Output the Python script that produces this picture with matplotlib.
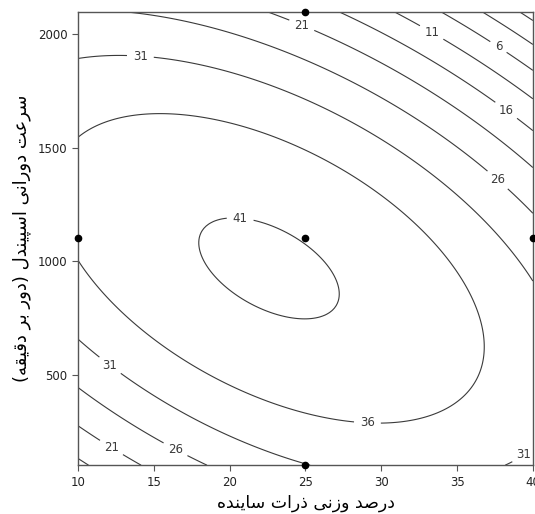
import matplotlib
matplotlib.use('Agg')
import matplotlib.pyplot as plt
import numpy as np

# Quadratic response-surface model (coded units)
b0 = 40.85
b_x, b_y = -4.25, -6.15
b_xx, b_yy, b_xy = -8.4, -16.15, -11.8

x_center, x_half = 25, 15        # weight percent of abrasive
y_center, y_half = 1100, 1000    # spindle speed (rpm)

levels = [-4, 1, 6, 11, 16, 21, 26, 31, 36, 41]

# design points shown as dots
design_x = [25, 10, 25, 40, 25]
design_y = [2100, 1100, 1100, 1100, 100]

xlabel_text = 'درصد وزنی ذرات ساینده'
ylabel_text = 'سرعت دورانی اسپیندل (دور بر دقیقه)'

# Persian letters: isolated, final, initial, medial
FORMS = {
    'ا': ('\uFE8D', '\uFE8E', None, None),
    'ب': ('\uFE8F', '\uFE90', '\uFE91', '\uFE92'),
    'پ': ('\uFB56', '\uFB57', '\uFB58', '\uFB59'),
    'ت': ('\uFE95', '\uFE96', '\uFE97', '\uFE98'),
    'د': ('\uFEA9', '\uFEAA', None, None),
    'ذ': ('\uFEAB', '\uFEAC', None, None),
    'ر': ('\uFEAD', '\uFEAE', None, None),
    'ز': ('\uFEAF', '\uFEB0', None, None),
    'س': ('\uFEB1', '\uFEB2', '\uFEB3', '\uFEB4'),
    'ص': ('\uFEB9', '\uFEBA', '\uFEBB', '\uFEBC'),
    'ع': ('\uFEC9', '\uFECA', '\uFECB', '\uFECC'),
    'ق': ('\uFED5', '\uFED6', '\uFED7', '\uFED8'),
    'ل': ('\uFEDD', '\uFEDE', '\uFEDF', '\uFEE0'),
    'ن': ('\uFEE5', '\uFEE6', '\uFEE7', '\uFEE8'),
    'ه': ('\uFEE9', '\uFEEA', '\uFEEB', '\uFEEC'),
    'و': ('\uFEED', '\uFEEE', None, None),
    'ی': ('\uFBFC', '\uFBFD', '\uFBFE', '\uFBFF'),
}


def farsi(text):
    out = []
    for i, ch in enumerate(text):
        if ch not in FORMS:
            out.append(ch)
            continue
        prev = text[i - 1] if i > 0 else ''
        nxt = text[i + 1] if i + 1 < len(text) else ''
        join_prev = prev in FORMS and FORMS[prev][2] is not None
        join_next = FORMS[ch][2] is not None and nxt in FORMS
        iso, fin, ini, med = FORMS[ch]
        if join_prev and join_next:
            out.append(med)
        elif join_prev:
            out.append(fin)
        elif join_next:
            out.append(ini)
        else:
            out.append(iso)
    s = ''.join(out)[::-1]
    return s.translate(str.maketrans('()', ')('))


def response(x, y):
    u = (x - x_center) / x_half
    v = (y - y_center) / y_half
    return b0 + b_x * u + b_y * v + b_xx * u**2 + b_yy * v**2 + b_xy * u * v


fig = plt.figure(figsize=(5.35, 5.14), dpi=100)
ax = fig.add_axes([0.146, 0.095, 0.850, 0.882])

gx = np.linspace(10, 40, 200)
gy = np.linspace(100, 2100, 200)
X, Y = np.meshgrid(gx, gy)
Z = response(X, Y)

cs = ax.contour(X, Y, Z, levels=levels, colors='#3a3a3a', linewidths=0.8,
                linestyles='solid')
label_pos = [(24.8, 2048), (33.4, 2018), (37.8, 1952), (38.3, 1671),
             (37.7, 1360), (14.1, 1895), (20.7, 1193), (29.1, 307),
             (12.1, 540), (12.1, 167), (16.4, 167), (39.0, 185)]
labels = ax.clabel(cs, inline=True, fmt='%d', fontsize=8.5, manual=label_pos,
                   inline_spacing=6)
for t in labels:
    t.set_rotation(0)

ax.plot(design_x, design_y, 'o', color='black', ms=4.5, clip_on=False, zorder=5)

ax.set_xlim(10, 40)
ax.set_ylim(100, 2100)
ax.set_xticks([10, 15, 20, 25, 30, 35, 40])
ax.set_yticks([500, 1000, 1500, 2000])
ax.tick_params(direction='out', length=4, width=0.8, colors='#555555',
               labelcolor='#222222', labelsize=8.5)
for sp in ax.spines.values():
    sp.set_color('#555555')
    sp.set_linewidth(1.0)

ax.set_xlabel(farsi(xlabel_text), fontsize=12.5, family='DejaVu Sans', labelpad=4)
ax.set_ylabel(farsi(ylabel_text), fontsize=13, family='DejaVu Sans', labelpad=5)

fig.savefig('out.png', dpi=100, facecolor='white')
